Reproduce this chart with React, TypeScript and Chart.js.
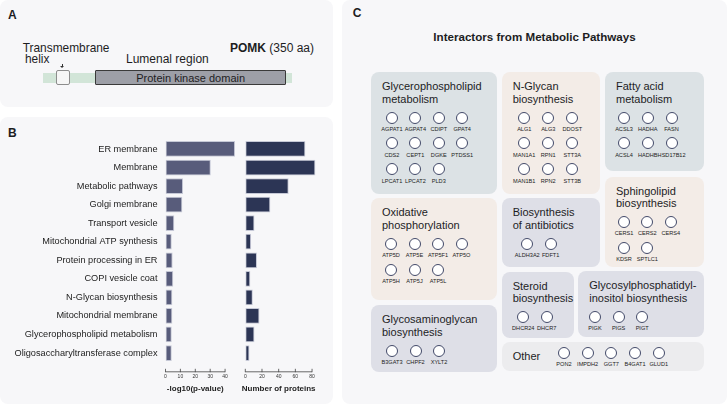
import React, { useEffect, useRef } from 'react';
import { Chart, registerables } from 'chart.js';

Chart.register(...registerables);

const FONT = '"Liberation Sans", Arial, Helvetica, sans-serif';

// ---------- Panel B data ----------
const CATEGORIES = [
  'ER membrane',
  'Membrane',
  'Metabolic pathways',
  'Golgi membrane',
  'Transport vesicle',
  'Mitochondrial ATP synthesis',
  'Protein processing in ER',
  'COPI vesicle coat',
  'N-Glycan biosynthesis',
  'Mitochondrial membrane',
  'Glycerophospholipid metabolism',
  'Oligosaccharyltransferase complex',
];
const NEG_LOG10_P = [46.7, 30.4, 11.8, 11.3, 5.9, 4.2, 4.8, 5.2, 4.6, 4.6, 4.2, 4.2];
const PROTEIN_COUNTS = [72, 84, 52, 30, 11, 7, 14, 6, 9, 17, 11, 5];
const P_TICKS = [0, 10, 20, 30, 40];
const COUNT_TICKS = [0, 20, 40, 60, 80];
const P_AXIS_TITLE = '-log10(p-value)';
const COUNT_AXIS_TITLE = 'Number of proteins';

// ---------- Panel C data ----------
const C_TITLE = 'Interactors from Metabolic Pathways';
const GLYCEROPHOSPHOLIPID_GENES = ['AGPAT1', 'AGPAT4', 'CDIPT', 'GPAT4', 'CDS2', 'CEPT1', 'DGKE', 'PTDSS1', 'LPCAT1', 'LPCAT2', 'PLD3'];
const N_GLYCAN_GENES = ['ALG1', 'ALG3', 'DDOST', 'MAN1A1', 'RPN1', 'STT3A', 'MAN1B1', 'RPN2', 'STT3B'];
const FATTY_ACID_GENES = ['ACSL3', 'HADHA', 'FASN', 'ACSL4', 'HADHB', 'HSD17B12'];
const SPHINGOLIPID_GENES = ['CERS1', 'CERS2', 'CERS4', 'KDSR', 'SPTLC1'];
const OXPHOS_GENES = ['ATP5D', 'ATP5E', 'ATP5F1', 'ATP5O', 'ATP5H', 'ATP5J', 'ATP5L'];
const ANTIBIOTICS_GENES = ['ALDH3A2', 'FDFT1'];
const STEROID_GENES = ['DHCR24', 'DHCR7'];
const GPI_GENES = ['PIGK', 'PIGS', 'PIGT'];
const GAG_GENES = ['B3GAT3', 'CHPF2', 'XYLT2'];
const OTHER_GENES = ['PON2', 'IMPDH2', 'GGT7', 'B4GAT1', 'GLUD1'];

const PATHWAY_TITLES = [
  'Glycerophospholipid\nmetabolism',
  'N-Glycan\nbiosynthesis',
  'Fatty acid\nmetabolism',
  'Sphingolipid\nbiosynthesis',
  'Oxidative\nphosphorylation',
  'Biosynthesis\nof antibiotics',
  'Steroid\nbiosynthesis',
  'Glycosylphosphatidyl-\ninositol biosynthesis',
  'Glycosaminoglycan\nbiosynthesis',
  'Other',
];
const PATHWAY_GENES = [
  GLYCEROPHOSPHOLIPID_GENES,
  N_GLYCAN_GENES,
  FATTY_ACID_GENES,
  SPHINGOLIPID_GENES,
  OXPHOS_GENES,
  ANTIBIOTICS_GENES,
  STEROID_GENES,
  GPI_GENES,
  GAG_GENES,
  OTHER_GENES,
];

// ---------- styles / layout ----------
const PANEL_BG = '#f7f7f9';
const BLUE = '#dce2e5';
const BEIGE = '#f3ece7';
const LAV = '#dedfe7';
const GREY = '#ececee';

type BoxLayout = { l: number; t: number; w: number; h: number; bg: string; cols: number; fc: number; pitch: number };
const BOX_LAYOUT: BoxLayout[] = [
  { l: 371, t: 72, w: 126, h: 122, bg: BLUE, cols: 4, fc: 21, pitch: 23.4 },
  { l: 501.7, t: 72, w: 98.3, h: 121.5, bg: BEIGE, cols: 3, fc: 22.6, pitch: 24 },
  { l: 605, t: 72, w: 99, h: 98.7, bg: BLUE, cols: 3, fc: 19, pitch: 23.8 },
  { l: 605, t: 176.7, w: 99, h: 90.6, bg: BEIGE, cols: 3, fc: 19, pitch: 23.4 },
  { l: 371, t: 198.3, w: 126, h: 101.7, bg: BEIGE, cols: 4, fc: 20, pitch: 23.5 },
  { l: 501.7, t: 198.3, w: 98.7, h: 69, bg: LAV, cols: 2, fc: 25.6, pitch: 23.4 },
  { l: 501.7, t: 271.7, w: 72.3, h: 66.6, bg: LAV, cols: 2, fc: 21.6, pitch: 23.4 },
  { l: 578.3, t: 271, w: 125.7, h: 66.3, bg: LAV, cols: 3, fc: 16.7, pitch: 23.6 },
  { l: 371, t: 305, w: 126, h: 66.7, bg: LAV, cols: 3, fc: 21, pitch: 23.5 },
  { l: 501.7, t: 341.7, w: 202.3, h: 29, bg: GREY, cols: 5, fc: 62.3, pitch: 23.7 },
];

// ---------- custom axis (baseline limited to the tick range) ----------
const rangeAxisPlugin = {
  id: 'rangeAxis',
  afterDraw(chart: any, _args: any, opts: any) {
    const xs = chart.scales.x;
    const ticks: number[] = opts.ticks;
    const ctx: CanvasRenderingContext2D = chart.ctx;
    const y = chart.chartArea.bottom + 9.5;
    const x0 = xs.getPixelForValue(ticks[0]);
    const x1 = xs.getPixelForValue(ticks[ticks.length - 1]);
    ctx.save();
    ctx.strokeStyle = '#444';
    ctx.lineWidth = 0.8;
    ctx.beginPath();
    ctx.moveTo(x0, y);
    ctx.lineTo(x1, y);
    ticks.forEach((t) => {
      const px = xs.getPixelForValue(t);
      ctx.moveTo(px, y - 3);
      ctx.lineTo(px, y + 0.4);
    });
    ctx.stroke();
    ctx.font = `bold 8px ${FONT}`;
    ctx.fillStyle = '#1e1e1e';
    ctx.textAlign = 'center';
    ctx.textBaseline = 'middle';
    ctx.fillText(opts.title, (x0 + x1) / 2, y + 16.5);
    ctx.restore();
  },
};

type BarProps = {
  values: number[];
  ticks: number[];
  max: number;
  title: string;
  color: string;
  showLabels: boolean;
  left: number;
  width: number;
  padLeft: number;
  padRight: number;
  yWidth: number;
};

function HBar(p: BarProps) {
  const ref = useRef<HTMLCanvasElement>(null);
  useEffect(() => {
    const chart = new Chart(ref.current as HTMLCanvasElement, {
      type: 'bar',
      data: {
        labels: CATEGORIES,
        datasets: [
          {
            data: p.values,
            backgroundColor: p.color,
            borderColor: '#c6c9d7',
            borderWidth: 1,
            borderSkipped: false,
            barPercentage: 0.85,
            categoryPercentage: 1,
          },
        ],
      },
      options: {
        indexAxis: 'y',
        animation: false,
        responsive: false,
        events: [],
        layout: { padding: { top: 22.7, left: p.padLeft, right: p.padRight, bottom: 0 } },
        plugins: {
          legend: { display: false },
          tooltip: { enabled: false },
          rangeAxis: { ticks: p.ticks, title: p.title },
        } as any,
        scales: {
          x: {
            type: 'linear',
            min: 0,
            max: p.max,
            afterBuildTicks: (s: any) => {
              s.ticks = p.ticks.map((v) => ({ value: v }));
            },
            afterFit: (s: any) => {
              s.height = 41.7;
            },
            grid: { display: false, drawTicks: true, tickLength: 11 },
            border: { display: false },
            ticks: { font: { family: FONT, size: 5 }, color: '#333', padding: 0, maxRotation: 0, autoSkip: false },
          },
          y: {
            display: p.showLabels,
            afterFit: (s: any) => {
              s.width = p.yWidth;
            },
            grid: { display: false, drawTicks: true, tickLength: 8 },
            border: { display: false },
            ticks: { font: { family: FONT, size: 9.2 }, color: '#222', padding: 0, autoSkip: false },
          },
        },
      } as any,
      plugins: [rangeAxisPlugin as any],
    });
    return () => chart.destroy();
  }, []);
  return (
    <canvas
      ref={ref}
      width={p.width}
      height={287}
      style={{ position: 'absolute', left: p.left, top: 117, width: p.width, height: 287 }}
    />
  );
}

const abs = (left: number, top: number, extra: React.CSSProperties = {}): React.CSSProperties => ({
  position: 'absolute',
  left,
  top,
  fontFamily: FONT,
  color: '#1d1d1f',
  whiteSpace: 'pre',
  lineHeight: '14px',
  ...extra,
});

function GeneGrid({ genes, cols, pitch }: { genes: string[]; cols: number; pitch: number }) {
  return (
    <div style={{ display: 'grid', gridTemplateColumns: `repeat(${cols}, ${pitch}px)`, rowGap: 4.8 }}>
      {genes.map((g) => (
        <div key={g} style={{ display: 'flex', flexDirection: 'column', alignItems: 'center' }}>
          <div
            style={{
              width: 12,
              height: 12,
              boxSizing: 'border-box',
              borderRadius: '50%',
              border: '1px solid #434a69',
              background: '#ffffff',
            }}
          />
          <div
            style={{
              marginTop: 2.2,
              fontSize: 5.6,
              lineHeight: '7px',
              fontFamily: FONT,
              color: '#222',
              whiteSpace: 'nowrap',
            }}
          >
            {g}
          </div>
        </div>
      ))}
    </div>
  );
}

function PathwayBox({ idx }: { idx: number }) {
  const b = BOX_LAYOUT[idx];
  const title = PATHWAY_TITLES[idx];
  const genes = PATHWAY_GENES[idx];
  const isOther = idx === PATHWAY_TITLES.length - 1;
  const gridLeft = b.fc - b.pitch / 2;
  return (
    <div
      style={{
        position: 'absolute',
        left: b.l,
        top: b.t,
        width: b.w,
        height: b.h,
        background: b.bg,
        borderRadius: 8,
      }}
    >
      {isOther ? (
        <>
          <div style={abs(11, 7.6, { fontSize: 11 })}>{title}</div>
          <div style={{ position: 'absolute', left: gridLeft, top: 5 }}>
            <GeneGrid genes={genes} cols={b.cols} pitch={b.pitch} />
          </div>
        </>
      ) : (
        <>
          <div style={abs(11, 8, { fontSize: 11, lineHeight: '12.5px' })}>{title}</div>
          <div style={{ position: 'absolute', left: gridLeft, top: 39.5 }}>
            <GeneGrid genes={genes} cols={b.cols} pitch={b.pitch} />
          </div>
        </>
      )}
    </div>
  );
}

export default function App() {
  return (
    <div
      style={{
        position: 'absolute',
        left: 0,
        top: 0,
        width: 727,
        height: 406,
        background: '#ffffff',
        overflow: 'hidden',
        fontFamily: FONT,
      }}
    >
      {/* Panel A */}
      <div style={{ position: 'absolute', left: 0, top: 0, width: 333, height: 107, background: PANEL_BG, borderRadius: 8 }}>
        <div style={abs(8, 8, { fontSize: 12, fontWeight: 'bold' })}>A</div>
        <div style={abs(22.7, 40.6, { fontSize: 11.9 })}>Transmembrane</div>
        <div style={abs(25, 52, { fontSize: 11.9 })}>helix</div>
        <div style={{ position: 'absolute', left: 61.6, top: 63.6, width: 0.9, height: 3, background: '#333' }} />
        <div
          style={{
            position: 'absolute',
            left: 60.1,
            top: 66.4,
            width: 0,
            height: 0,
            borderLeft: '2px solid transparent',
            borderRight: '2px solid transparent',
            borderTop: '2.4px solid #333',
          }}
        />
        <div style={abs(126, 52, { fontSize: 12 })}>Lumenal region</div>
        <div style={abs(230, 40.6, { fontSize: 12 })}>
          <span style={{ fontWeight: 'bold' }}>POMK</span> (350 aa)
        </div>
        <div style={{ position: 'absolute', left: 42.7, top: 72.7, width: 249.3, height: 10, background: '#d2e5d8' }} />
        <div
          style={{
            position: 'absolute',
            left: 55.7,
            top: 70,
            width: 14.6,
            height: 15.3,
            boxSizing: 'border-box',
            background: '#f6f6f6',
            border: '1px solid #8d8d8d',
            borderRadius: 2,
          }}
        />
        <div
          style={{
            position: 'absolute',
            left: 95.3,
            top: 70,
            width: 190.7,
            height: 15.3,
            boxSizing: 'border-box',
            background: '#9d9fa7',
            border: '1px solid #3a3a3a',
            borderRadius: 1,
            display: 'flex',
            alignItems: 'center',
            justifyContent: 'center',
            fontFamily: FONT,
            fontSize: 11,
            color: '#1d1d1f',
          }}
        >
          Protein kinase domain
        </div>
      </div>

      {/* Panel B */}
      <div style={{ position: 'absolute', left: 0, top: 117, width: 333, height: 287, background: PANEL_BG, borderRadius: 8 }}>
        <div style={abs(8, 9, { fontSize: 12, fontWeight: 'bold' })}>B</div>
      </div>
      <HBar
        values={NEG_LOG10_P}
        ticks={P_TICKS}
        max={50}
        title={P_AXIS_TITLE}
        color="#585c7b"
        showLabels={true}
        left={0}
        width={240}
        padLeft={0}
        padRight={0}
        yWidth={165.5}
      />
      <HBar
        values={PROTEIN_COUNTS}
        ticks={COUNT_TICKS}
        max={87}
        title={COUNT_AXIS_TITLE}
        color="#2c3555"
        showLabels={false}
        left={240}
        width={80}
        padLeft={5.3}
        padRight={2.1}
        yWidth={0}
      />

      {/* Panel C */}
      <div style={{ position: 'absolute', left: 342, top: 0, width: 385, height: 404, background: PANEL_BG, borderRadius: 8 }}>
        <div style={abs(10.7, 6, { fontSize: 12, fontWeight: 'bold' })}>C</div>
        <div style={abs(0, 29.5, { width: 385, textAlign: 'center', fontSize: 11.6, fontWeight: 'bold' })}>{C_TITLE}</div>
      </div>
      {PATHWAY_TITLES.map((_, i) => (
        <PathwayBox key={i} idx={i} />
      ))}
    </div>
  );
}
